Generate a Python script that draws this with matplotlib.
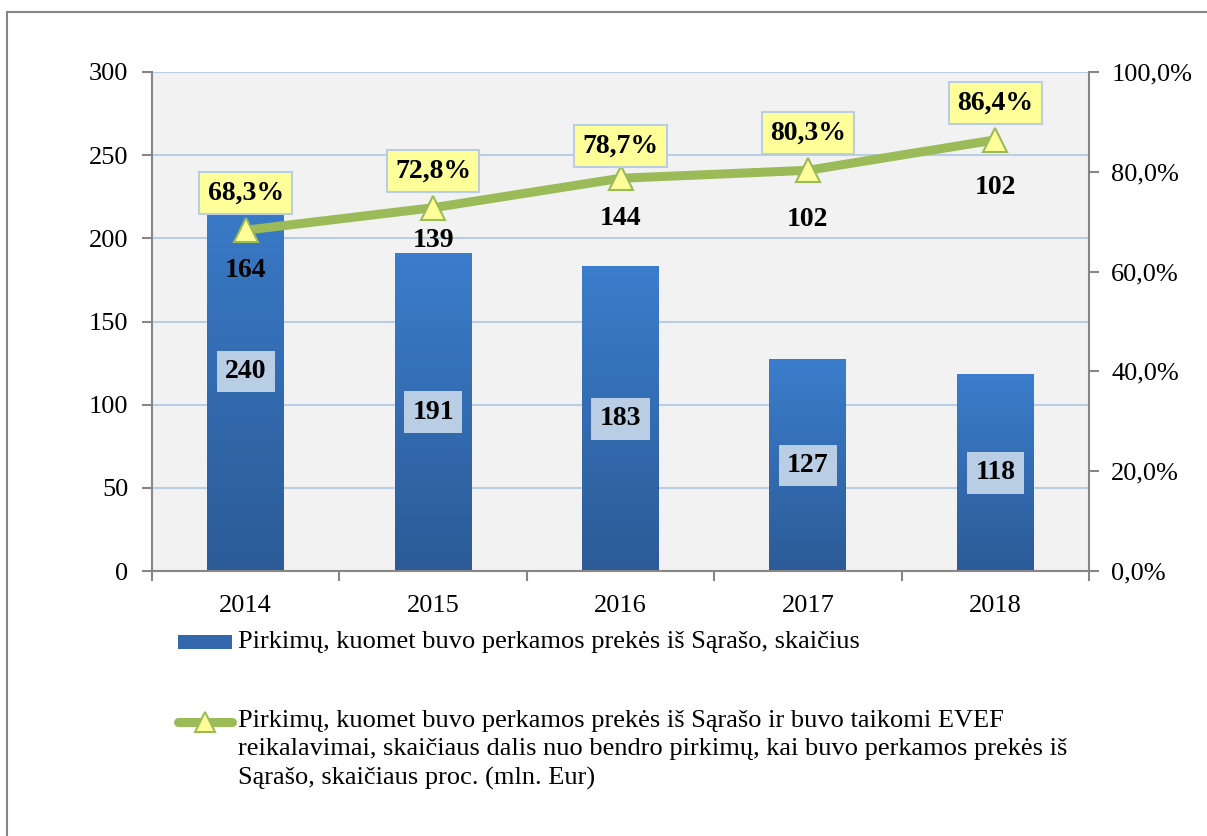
import matplotlib
matplotlib.use("Agg")
import matplotlib.pyplot as plt
import numpy as np
from matplotlib.lines import Line2D
from matplotlib.patches import Rectangle
from matplotlib.colors import LinearSegmentedColormap

# data
years = ["2014", "2015", "2016", "2017", "2018"]
purchases = [240, 191, 183, 127, 118]
evef_share = [68.3, 72.8, 78.7, 80.3, 86.4]
evef_counts = [164, 139, 144, 102, 102]

bar_label = "Pirkimų, kuomet buvo perkamos prekės iš Sąrašo, skaičius"
line_label = ("Pirkimų, kuomet buvo perkamos prekės iš Sąrašo ir buvo taikomi EVEF\n"
              "reikalavimai, skaičiaus dalis nuo bendro pirkimų, kai buvo perkamos prekės iš\n"
              "Sąrašo, skaičiaus proc. (mln. Eur)")

# label offsets from the line points, in pixels
share_offsets = [37, 37, 32, 37, 37]
count_offsets = [40, 33, 40, 49, 48]

plt.rcParams["font.family"] = ["Liberation Serif", "DejaVu Serif"]

GREEN = "#9BBB59"
YELLOW = "#FFFF99"
GRID = "#B9CDE5"
SPINE = "#868686"

W, H = 1207, 836
fig = plt.figure(figsize=(W / 100, H / 100), dpi=100)
ax = fig.add_axes([152 / W, 1 - 571 / H, 937 / W, 499 / H])
ax.set_facecolor("#F2F2F2")

x = np.arange(len(years))
width = 0.41

# bars with a vertical gradient
cmap = LinearSegmentedColormap.from_list("bar", ["#2C5B97", "#3B7DCC"])
grad = np.linspace(0, 1, 256).reshape(-1, 1)
for xi, val in zip(x, purchases):
    ax.imshow(grad, cmap=cmap, origin="lower", aspect="auto",
              extent=(xi - width / 2, xi + width / 2, 0, val), zorder=2)
    ax.text(xi, val / 2, str(val), ha="center", va="center", fontsize=20,
            fontweight="bold", zorder=6,
            bbox=dict(boxstyle="square,pad=0.3", fc=GRID, ec="none"))

ax.set_xlim(-0.5, len(years) - 0.5)
ax.set_ylim(0, 300)
ax.set_yticks(range(0, 301, 50))
ax.yaxis.grid(True, color=GRID, linewidth=1.5)
ax.set_axisbelow(True)

# category ticks between bars, labels at the centres
ax.set_xticks(np.arange(-0.5, len(years), 1.0))
ax.set_xticklabels([])
ax.set_xticks(x, minor=True)
ax.set_xticklabels(years, minor=True)
ax.tick_params(axis="x", which="minor", length=0, pad=17, labelsize=19)
ax.tick_params(axis="x", which="major", length=7, width=1.5, color=SPINE)
ax.tick_params(axis="y", length=7, width=1.5, color=SPINE, pad=10, labelsize=19)

for side in ["top", "right"]:
    ax.spines[side].set_visible(False)
for side in ["left", "bottom"]:
    ax.spines[side].set_color(SPINE)
    ax.spines[side].set_linewidth(1.5)

# share line on the secondary axis
ax2 = ax.twinx()
ax2.set_ylim(0, 100)
ax2.set_yticks(range(0, 101, 20))
ax2.set_yticklabels([f"{v},0%" for v in range(0, 101, 20)])
ax2.tick_params(axis="y", length=7, width=1.5, color=SPINE, pad=9, labelsize=19)
for side in ["top", "left", "bottom"]:
    ax2.spines[side].set_visible(False)
ax2.spines["right"].set_color(SPINE)
ax2.spines["right"].set_linewidth(1.5)

ax2.plot(x, evef_share, color=GREEN, linewidth=6.5, marker="^", markersize=17,
         markerfacecolor=YELLOW, markeredgecolor=GREEN, markeredgewidth=1.5,
         zorder=4)

for xi, share, cnt, up, down in zip(x, evef_share, evef_counts,
                                     share_offsets, count_offsets):
    ax2.annotate(f"{share:.1f}%".replace(".", ","), (xi, share),
                 xytext=(0, up), textcoords="offset pixels", ha="center",
                 va="center", fontsize=20, fontweight="bold", zorder=6,
                 bbox=dict(boxstyle="square,pad=0.3", fc=YELLOW, ec=GRID, lw=1.5))
    ax2.annotate(str(cnt), (xi, share), xytext=(0, -down),
                 textcoords="offset pixels", ha="center", va="center",
                 fontsize=20, fontweight="bold", zorder=6)

# legend drawn by hand below the plot
fig.add_artist(Rectangle((178 / W, 1 - 649 / H), 54 / W, 14 / H,
                         transform=fig.transFigure, fc="#3468AE", ec="none"))
fig.text(238 / W, 1 - 642 / H, bar_label, fontsize=19, va="center", ha="left")
fig.add_artist(Line2D([178 / W, 232 / W], [1 - 722 / H] * 2, transform=fig.transFigure,
                      color=GREEN, linewidth=6.5, solid_capstyle="round"))
fig.add_artist(Line2D([205 / W], [1 - 722 / H], transform=fig.transFigure,
                      marker="^", markersize=14, markerfacecolor=YELLOW,
                      markeredgecolor=GREEN, markeredgewidth=1.5))
fig.text(238 / W, 1 - 710 / H, line_label, fontsize=19, va="top", ha="left",
         linespacing=1.38)

# outer frame (top and left edges visible)
fig.add_artist(Line2D([7 / W, 1.0], [1 - 12 / H] * 2, transform=fig.transFigure,
                      color=SPINE, linewidth=1.5))
fig.add_artist(Line2D([7 / W] * 2, [0, 1 - 12 / H], transform=fig.transFigure,
                      color=SPINE, linewidth=1.5))

fig.savefig("out.png", dpi=100)
